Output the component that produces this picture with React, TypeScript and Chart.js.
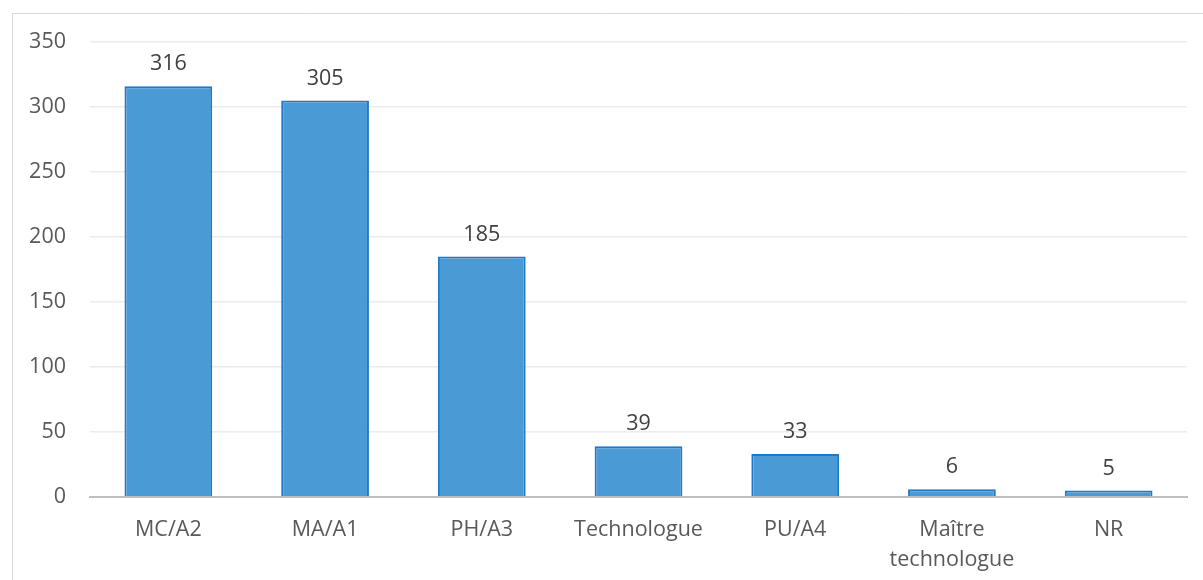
import React, { useEffect, useRef } from "react";
import { Chart, registerables } from "chart.js";

Chart.register(...registerables);

const categories: (string | string[])[] = [
  "MC/A2",
  "MA/A1",
  "PH/A3",
  "Technologue",
  "PU/A4",
  ["Maître", "technologue"],
  "NR",
];
const values: number[] = [316, 305, 185, 39, 33, 6, 5];
const yTicks: number[] = [0, 50, 100, 150, 200, 250, 300, 350];

const FONT = "'Open Sans', 'Noto Sans', sans-serif";
const TEXT = "#595959";
const FS = 21.5;

const frame = {
  id: "frame",
  beforeDraw(chart: any) {
    const ctx = chart.ctx;
    ctx.save();
    ctx.fillStyle = "#ffffff";
    ctx.fillRect(0, 0, chart.width, chart.height);
    ctx.strokeStyle = "#D9D9D9";
    ctx.lineWidth = 1;
    ctx.beginPath();
    ctx.moveTo(12.5, chart.height);
    ctx.lineTo(12.5, 13.5);
    ctx.lineTo(chart.width, 13.5);
    ctx.stroke();
    ctx.restore();
  },
};

const dataLabels = {
  id: "dataLabels",
  afterDatasetsDraw(chart: any) {
    const ctx = chart.ctx;
    const meta = chart.getDatasetMeta(0);
    ctx.save();
    ctx.font = `${FS}px ${FONT}`;
    ctx.fillStyle = "#404040";
    ctx.textAlign = "center";
    ctx.textBaseline = "middle";
    meta.data.forEach((bar: any, i: number) => {
      ctx.fillText(String(values[i]), bar.x, bar.y - 22);
    });
    ctx.restore();
  },
};

export default function App() {
  const ref = useRef<HTMLCanvasElement | null>(null);
  useEffect(() => {
    document.body.style.margin = "0";
    if (!ref.current) return;
    const chart = new Chart(ref.current, {
      type: "bar",
      data: {
        labels: categories,
        datasets: [
          {
            data: values,
            backgroundColor: "#4A9BD5",
            borderColor: "#1F78C8",
            borderWidth: 2,
            barPercentage: 0.56,
            categoryPercentage: 1,
          },
        ],
      },
      options: {
        animation: false,
        responsive: false,
        maintainAspectRatio: false,
        layout: { padding: { top: 42, right: 16, left: 0, bottom: 0 } },
        plugins: {
          legend: { display: false },
          tooltip: { enabled: false },
          title: { display: false },
        },
        scales: {
          x: {
            grid: { display: false },
            border: { display: true, color: "#BFBFBF", width: 2 },
            ticks: {
              color: TEXT,
              font: { family: FONT, size: FS, lineHeight: 1.4 },
              padding: 10,
              maxRotation: 0,
              autoSkip: false,
            },
            afterFit(scale: any) {
              scale.height = 83;
            },
          },
          y: {
            min: 0,
            max: 350,
            afterBuildTicks(scale: any) {
              scale.ticks = yTicks.map((v) => ({ value: v }));
            },
            grid: {
              color: (c: any) => (c.tick && c.tick.value === 0 ? "rgba(0,0,0,0)" : "#ECECEC"),
              lineWidth: 1.5,
              drawTicks: false,
            },
            border: { display: false },
            ticks: {
              color: TEXT,
              font: { family: FONT, size: FS },
              padding: 24,
            },
            afterFit(scale: any) {
              scale.width = 90;
            },
          },
        },
      },
      plugins: [frame, dataLabels],
    });
    return () => chart.destroy();
  }, []);
  return <canvas ref={ref} width={1203} height={580} style={{ display: "block" }} />;
}
